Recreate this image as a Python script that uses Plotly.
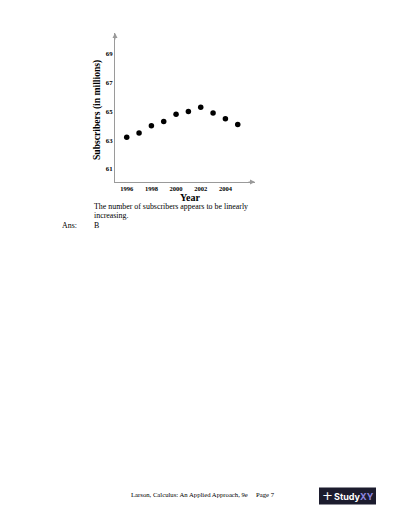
import plotly.graph_objects as go

years = [1996, 1997, 1998, 1999, 2000, 2001, 2002, 2003, 2004, 2005]
subscribers = [63.2, 63.5, 64.0, 64.3, 64.8, 65.0, 65.3, 64.9, 64.5, 64.1]
x_ticks = [1996, 1998, 2000, 2002, 2004]
y_ticks = [61, 63, 65, 67, 69]

OFF = 8  # page body margin
W, H = 400 - OFF, 518 - OFF
# plot area in window pixels
L, R, T, B = 115, 255, 33, 182

serif = "Liberation Serif, Times New Roman, serif"


def px(x):
    return (x - L) / (R - L)


def py(y):
    return (B - y) / (B - T)


fig = go.Figure()
fig.add_trace(go.Scatter(
    x=years, y=subscribers, mode="markers",
    marker=dict(color="black", size=5.5),
    showlegend=False, hoverinfo="skip"))

fig.update_layout(
    template="none",
    width=W, height=H,
    margin=dict(l=L - OFF, r=400 - R, t=T - OFF, b=518 - B, pad=0),
    paper_bgcolor="white", plot_bgcolor="white",
    font=dict(family=serif, color="black"),
    xaxis=dict(range=[1995.05, 2006.4], tickvals=x_ticks,
               ticktext=[f"<b>{v}</b>" for v in x_ticks],
               showgrid=False, zeroline=False, showline=True,
               linecolor="#9a9a9a", linewidth=1, ticks="",
               tickfont=dict(size=6.5, family=serif, color="black")),
    yaxis=dict(range=[60.1, 70.45], tickvals=y_ticks,
               ticktext=[f"<b>{v}</b>" for v in y_ticks],
               showgrid=False, zeroline=False, showline=True,
               linecolor="#9a9a9a", linewidth=1, ticks="",
               tickfont=dict(size=6.8, family=serif, color="black")),
)


def txt(x, y, text, size, anchor="left", family=serif, color="black", **kw):
    return dict(x=px(x), y=py(y), xref="paper", yref="paper", text=text,
                showarrow=False, font=dict(size=size, family=family, color=color),
                xanchor=anchor, yanchor="middle", **kw)


ann = []
# axis arrows
ann.append(dict(x=1, y=0, xref="paper", yref="paper", ax=-8, ay=0,
                showarrow=True, arrowhead=2, arrowsize=1, arrowwidth=1,
                arrowcolor="#9a9a9a", text=""))
ann.append(dict(x=0, y=1, xref="paper", yref="paper", ax=0, ay=8,
                showarrow=True, arrowhead=2, arrowsize=1, arrowwidth=1,
                arrowcolor="#9a9a9a", text=""))
# axis titles
ann.append(txt(97, 110, "<b>Subscribers (in millions)</b>", 9.6, "center", textangle=-90))
ann.append(txt(190, 197, "<b>Year</b>", 10, "center"))
# body text
ann.append(txt(92, 206, "The number of subscribers appears to be linearly", 7.9))
ann.append(txt(92, 215, "increasing.", 7.9))
ann.append(txt(60, 225, "Ans:", 7.9))
ann.append(txt(92, 225, "B", 7.9))
# footer
ann.append(txt(129, 494, "Larson, Calculus: An Applied Approach, 9e", 6.7))
ann.append(txt(254, 494, "Page 7", 6.7))
# logo
ann.append(txt(353.5, 496, "<b>Study<span style='color:#8f86e0'>XY</span></b>", 9,
               "center", family="Inter, Noto Sans, sans-serif", color="white"))
ann.append(txt(327, 495.5, "+", 13, "center", family="DejaVu Sans", color="white"))
fig.update_layout(annotations=ann)

fig.add_shape(type="rect", xref="paper", yref="paper",
              x0=px(319), x1=px(376), y0=py(504.5), y1=py(487.5),
              fillcolor="#1c1c2e", line=dict(width=0), layer="below")

fig.write_html("out.html")
